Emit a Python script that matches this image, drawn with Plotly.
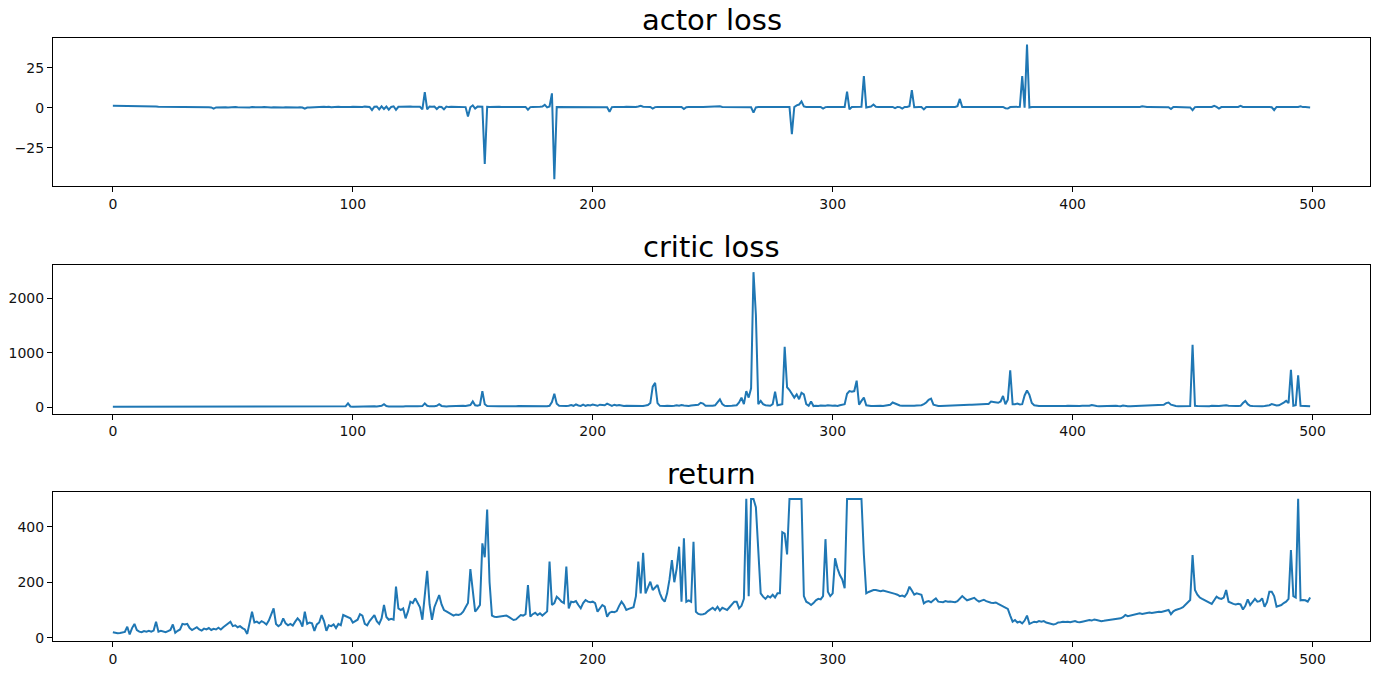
import plotly.graph_objects as go

# ---------------- data ----------------
episodes = list(range(500))

actor_loss = [
    1.2, 1.2, 1.1, 1.1, 1.2, 1.1, 1.0, 1.1, 1.0, 1.0, 1.1, 1.0, 1.2, 0.9, 1.0, 0.9, 0.8, 0.9, 0.8, 0.7,
    0.7, 0.6, 0.7, 0.6, 0.5, 0.6, 0.5, 0.6, 0.4, 0.5, 0.4, 0.5, 0.3, 0.5, 0.4, 0.3, 0.4, 0.5, 0.3, 0.4,
    0.3, 0.2, -0.5, 0.2, 0.3, 0.4, 0.2, 0.3, 0.2, 0.4, 0.3, 0.5, 0.3, 0.2, 0.3, 0.4, 0.3, 0.2, 0.4, 0.3,
    0.3, 0.2, 0.3, 0.4, 0.2, 0.3, 0.2, 0.3, 0.2, 0.3, 0.1, 0.2, 0.3, 0.2, 0.3, 0.2, 0.1, 0.2, 0.3, 0.1,
    -0.6, 0.1, 0.2, 0.3, 0.4, 0.3, 0.5, 0.3, 0.6, 0.4, 0.6, 0.3, 0.5, 0.4, 0.6, 0.5, 0.4, 0.6, 0.4, 0.5,
    0.6, 0.5, 0.4, 0.6, 0.5, 0.7, 0.6, 0.5, -1.5, 0.6, 0.8, -1.0, 0.9, -0.8, 0.7, -1.2, 0.5, 0.9, -1.3, 0.6,
    0.7, 0.8, 0.6, 0.7, 0.8, 0.6, 0.7, 0.8, 0.6, -1.0, 9.8, -1.0, 0.8, 0.6, 0.7, -0.8, 0.6, 0.5, -1.0, 0.7,
    0.4, 0.6, 0.5, 0.6, 0.4, 0.6, 0.5, 0.4, -5.5, 0.3, 1.5, -0.5, 0.7, 0.5, 0.6, -35.0, 0.6, 0.5, 0.6, 0.5,
    0.5, 0.6, 0.5, 0.5, 0.6, 0.5, 0.5, 0.4, 0.5, 0.5, 0.4, 0.3, 0.5, -1.2, 0.4, 0.5, 0.4, 0.5, 0.6, 0.8,
    1.8, 0.2, 0.8, 9.0, -44.5, 0.5, 0.5, 0.4, 0.5, 0.5, 0.6, 0.5, 0.4, 0.5, 0.5, 0.5, 0.4, 0.5, 0.5, 0.4,
    0.5, 0.4, 0.5, 0.5, 0.4, 0.5, 0.3, -2.5, 0.4, 0.5, 0.4, 0.5, 0.5, 0.4, 0.6, 0.5, 0.5, 0.4, 0.5, 0.8,
    1.2, 0.6, 0.5, 0.4, 0.5, -0.5, 0.4, 0.5, 0.5, 0.4, 0.5, 0.5, 0.4, 0.5, 0.5, 0.4, 0.5, 0.5, -0.8, 0.3,
    0.4, 0.5, 0.5, 0.4, 0.5, 0.5, 0.4, 0.5, 0.5, 0.5, 0.4, 0.5, 0.6, 0.9, 0.5, 0.5, 0.4, 0.5, 0.5, 0.4,
    0.5, 0.5, 0.4, 0.5, 0.5, 0.4, 0.3, -3.0, 0.2, 0.5, 0.4, 0.5, 0.5, 0.4, 0.5, 0.5, 0.4, 0.5, 0.4, 0.5,
    0.5, 0.4, 0.5, -16.5, 0.5, 1.5, 2.0, 4.0, 0.8, 0.5, 0.5, 0.4, 0.5, 0.5, 0.4, 0.5, -0.5, 0.4, 0.5, 0.5,
    0.5, 0.4, 0.5, 0.5, 0.6, 0.5, 10.0, -1.0, 0.4, 0.5, 0.6, 0.5, 0.6, 19.7, 0.2, 0.5, 0.8, 2.0, 0.6, 0.5,
    0.4, 0.5, 0.5, 0.4, 0.5, 0.5, -0.3, 0.5, 0.4, -0.5, 0.5, 0.5, 1.0, 11.0, 0.3, 0.5, 0.4, 0.4, -1.0, 0.5,
    0.5, 0.4, 0.5, 0.5, 0.4, 0.5, 0.5, 0.4, 0.5, 0.5, 0.4, 0.5, 1.0, 5.5, 0.5, 0.4, 0.5, 0.5, 0.4, 0.5,
    0.5, 0.4, 0.5, 0.5, 0.4, 0.5, 0.5, 0.4, 0.5, 0.5, 0.4, 0.5, -0.3, -0.5, 0.4, 0.5, 0.4, 0.5, 0.6, 19.7,
    0.0, 39.4, 0.2, 0.5, 0.4, 0.5, 0.5, 0.4, 0.5, 0.5, 0.4, 0.5, 0.5, 0.4, 0.5, 0.5, 0.4, 0.5, 0.5, 0.4,
    0.5, 0.4, 0.5, 0.5, 0.4, 0.5, 0.5, 0.4, 0.5, 0.5, 0.4, 0.5, 0.5, 0.4, 0.5, 0.5, 0.4, 0.5, 0.5, 0.4,
    0.5, 0.4, 0.5, 0.5, 0.4, 0.5, 0.5, 0.4, 0.5, 0.9, 0.5, 0.4, 0.5, 0.5, 0.4, 0.5, 0.5, 0.4, 0.5, 0.3,
    0.3, -0.8, 0.5, 0.5, 0.4, 0.5, 0.5, 0.4, 0.3, 0.2, -1.5, 0.4, 0.5, 0.4, 0.5, 0.5, 0.4, 0.4, 0.5, 1.2,
    0.5, -0.5, 0.4, 0.5, 0.4, 0.5, 0.5, 0.4, 0.5, 0.5, 1.2, 0.5, 0.4, 0.5, 0.5, 0.4, 0.5, 0.5, 0.4, 0.5,
    0.5, 0.4, 0.5, 0.3, -1.5, 0.5, 0.4, 0.5, 0.5, 0.4, 0.5, 0.5, 0.4, 0.5, 0.5, 0.9, 0.4, 0.5, 0.3, 0.2,
]

critic_loss = [
    12, 12, 11, 12, 13, 12, 11, 12, 12, 13, 12, 11, 12, 12, 11, 12, 13, 12, 12, 11,
    12, 12, 13, 12, 11, 12, 12, 13, 12, 12, 11, 12, 12, 13, 12, 11, 12, 12, 13, 12,
    12, 11, 12, 13, 12, 12, 11, 12, 13, 12, 12, 11, 12, 12, 13, 12, 11, 12, 12, 13,
    12, 12, 11, 12, 13, 12, 12, 11, 12, 12, 13, 12, 11, 12, 12, 13, 12, 12, 11, 12,
    13, 12, 12, 11, 12, 12, 13, 12, 12, 11, 12, 13, 12, 14, 12, 13, 15, 20, 75, 18,
    14, 16, 15, 18, 16, 15, 17, 16, 18, 20, 17, 22, 30, 60, 25, 18, 16, 20, 18, 17,
    18, 16, 20, 17, 19, 18, 22, 20, 18, 25, 75, 30, 20, 18, 22, 30, 60, 28, 20, 18,
    22, 25, 20, 24, 28, 25, 30, 28, 35, 45, 110, 40, 30, 45, 300, 60, 25, 22, 20, 24,
    22, 20, 24, 22, 20, 23, 25, 22, 24, 26, 25, 28, 30, 32, 28, 25, 24, 26, 22, 20,
    24, 22, 30, 100, 250, 70, 30, 25, 22, 28, 30, 45, 30, 55, 35, 28, 50, 30, 45, 35,
    55, 40, 30, 50, 45, 40, 70, 45, 30, 50, 35, 45, 30, 28, 32, 30, 35, 30, 25, 28,
    30, 28, 35, 45, 80, 380, 450, 80, 30, 25, 28, 30, 25, 28, 30, 40, 32, 45, 35, 30,
    28, 35, 40, 32, 50, 85, 70, 30, 28, 25, 30, 40, 90, 150, 60, 30, 28, 25, 30, 35,
    40, 90, 180, 60, 300, 180, 350, 2480, 1700, 60, 120, 60, 40, 35, 30, 60, 290, 40, 45, 60,
    1110, 370, 320, 250, 180, 240, 150, 270, 240, 60, 30, 110, 25, 30, 25, 35, 28, 30, 40, 32,
    30, 35, 28, 40, 45, 60, 250, 300, 290, 300, 490, 50, 120, 180, 40, 30, 28, 25, 30, 35,
    30, 28, 40, 45, 50, 90, 70, 40, 35, 30, 28, 30, 35, 32, 30, 35, 38, 40, 60, 90,
    140, 160, 50, 30, 25, 28, 30, 35, 40, 45, 48, 50, 52, 50, 48, 52, 55, 50, 48, 52,
    55, 58, 55, 60, 65, 62, 108, 100, 95, 85, 110, 210, 60, 140, 680, 60, 60, 70, 55, 60,
    220, 310, 230, 80, 40, 30, 28, 25, 30, 28, 25, 30, 28, 25, 22, 25, 28, 25, 30, 28,
    25, 22, 25, 28, 30, 28, 25, 30, 45, 28, 25, 22, 25, 28, 25, 22, 25, 28, 30, 25,
    22, 35, 25, 22, 20, 22, 25, 22, 20, 22, 25, 28, 30, 32, 30, 35, 40, 45, 50, 80,
    90, 50, 30, 25, 22, 20, 22, 25, 22, 25, 1150, 30, 25, 22, 25, 28, 25, 22, 30, 25,
    28, 25, 30, 35, 40, 30, 25, 22, 25, 28, 30, 80, 120, 60, 30, 25, 22, 25, 20, 22,
    25, 28, 40, 60, 45, 35, 40, 60, 90, 120, 80, 690, 30, 40, 589, 30, 25, 22, 20, 20,
]

episode_return = [
    20, 18, 16, 17, 19, 21, 40, 12, 35, 50,
    28, 22, 20, 24, 22, 25, 22, 26, 58, 22,
    25, 22, 20, 24, 28, 48, 18, 25, 30, 50,
    48, 50, 35, 28, 32, 38, 30, 26, 33, 30,
    35, 28, 32, 30, 36, 30, 38, 45, 50, 58,
    42, 45, 38, 42, 35, 30, 14, 50, 94, 55,
    58, 52, 60, 55, 48, 62, 85, 106, 50, 42,
    48, 70, 52, 45, 50, 44, 58, 70, 60, 40,
    94, 50, 55, 52, 25, 48, 55, 82, 60, 25,
    45, 42, 48, 35, 50, 45, 82, 78, 75, 70,
    55, 60, 65, 85, 80, 50, 45, 60, 70, 82,
    60, 50, 70, 118, 75, 65, 68, 65, 184, 106,
    100, 106, 70, 95, 130, 125, 142, 125, 110, 65,
    150, 241, 120, 65, 110, 130, 154, 120, 100, 95,
    90, 82, 80, 84, 82, 85, 94, 110, 125, 247,
    180, 94, 105, 118, 340, 290, 462, 200, 80, 76,
    75, 76, 76, 78, 80, 75, 70, 64, 66, 75,
    82, 80, 85, 190, 76, 85, 90, 82, 88, 80,
    86, 95, 274, 118, 125, 148, 140, 130, 125, 256,
    106, 130, 128, 132, 118, 106, 125, 136, 130, 128,
    130, 125, 94, 105, 118, 112, 76, 90, 94, 92,
    96, 115, 130, 118, 100, 104, 106, 110, 150, 274,
    160, 306, 160, 184, 202, 172, 180, 190, 160, 140,
    130, 160, 210, 280, 200, 250, 328, 130, 358, 130,
    135, 130, 346, 94, 86, 84, 85, 88, 96, 102,
    108, 100, 112, 98, 108, 104, 100, 110, 120, 130,
    130, 106, 115, 140, 500, 150, 500, 500, 470, 300,
    160, 148, 140, 150, 145, 155, 145, 160, 160, 380,
    375, 300, 500, 500, 500, 500, 500, 500, 150, 130,
    125, 118, 125, 135, 140, 138, 150, 355, 166, 150,
    160, 286, 250, 226, 210, 178, 500, 500, 500, 500,
    500, 500, 500, 300, 160, 165, 170, 172, 172, 170,
    168, 170, 168, 165, 162, 160, 158, 155, 150, 152,
    148, 160, 184, 170, 155, 160, 158, 155, 124, 130,
    132, 128, 135, 142, 130, 130, 128, 132, 130, 131,
    130, 128, 132, 140, 150, 142, 135, 138, 142, 144,
    136, 130, 134, 137, 132, 128, 126, 125, 127, 122,
    118, 112, 108, 104, 80, 58, 64, 55, 58, 52,
    62, 80, 50, 55, 58, 56, 60, 58, 60, 55,
    52, 50, 48, 50, 55, 56, 58, 57, 58, 56,
    58, 60, 57, 56, 58, 60, 62, 64, 62, 66,
    64, 62, 60, 61, 62, 64, 66, 65, 67, 69,
    70, 74, 82, 78, 80, 82, 84, 86, 88, 86,
    88, 90, 91, 89, 91, 92, 94, 93, 95, 98,
    100, 85, 95, 100, 102, 106, 110, 118, 125, 136,
    298, 172, 155, 145, 140, 135, 130, 128, 122, 135,
    148, 142, 140, 145, 172, 130, 125, 122, 120, 122,
    120, 102, 115, 138, 118, 128, 140, 130, 132, 142,
    112, 128, 166, 166, 150, 112, 115, 118, 125, 130,
    140, 316, 150, 145, 500, 135, 136, 135, 130, 145,
]

titles = ["actor loss", "critic loss", "return"]
x_ticks = [0, 100, 200, 300, 400, 500]
y_ticks = [[-25, 0, 25], [0, 1000, 2000], [0, 200, 400]]

# ---------------- layout ----------------
W, H = 1400, 685
LEFT, RIGHT = 53, 1370
panels_px = [(38, 187), (267, 416), (495, 645)]  # (top, bottom) in pixels
LINE_COLOR = "#1f77b4"
FONT = "DejaVu Sans"

series = [actor_loss, critic_loss, episode_return]

fig = go.Figure()
n = len(episodes)
x_pad = 0.05 * (n - 1)
x_range = [-x_pad, (n - 1) + x_pad]

annotations = []
for i, (ys, title, yt, (top, bot)) in enumerate(zip(series, titles, y_ticks, panels_px)):
    idx = "" if i == 0 else str(i + 1)
    fig.add_trace(go.Scatter(
        x=episodes, y=ys, mode="lines",
        line=dict(color=LINE_COLOR, width=2),
        xaxis="x" + idx, yaxis="y" + idx, showlegend=False,
        hoverinfo="x+y",
    ))
    lo, hi = min(ys), max(ys)
    pad = 0.05 * (hi - lo)
    axis_common = dict(
        showline=True, mirror=True, linecolor="black", linewidth=1,
        ticks="outside", ticklen=5, tickwidth=1, tickcolor="black",
        showgrid=False, zeroline=False,
        tickfont=dict(family=FONT, size=14, color="#111"),
    )
    fig.update_layout(**{
        "xaxis" + idx: dict(
            domain=[LEFT / W, RIGHT / W], anchor="y" + idx,
            range=x_range, tickmode="array", tickvals=x_ticks,
            **axis_common,
        ),
        "yaxis" + idx: dict(
            domain=[(H - bot) / H, (H - top) / H], anchor="x" + idx,
            range=[lo - pad, hi + pad], tickmode="array", tickvals=yt,
            ticktext=[str(v).replace("-", "\u2212") for v in yt],
            **axis_common,
        ),
    })
    annotations.append(dict(
        text=title, xref="x" + idx + " domain", yref="y" + idx + " domain",
        x=0.5, y=1, xanchor="center", yanchor="bottom", yshift=-1,
        showarrow=False, font=dict(family=FONT, size=29, color="black"),
    ))

fig.update_layout(
    width=W, height=H,
    margin=dict(l=0, r=0, t=0, b=0),
    paper_bgcolor="white", plot_bgcolor="white",
    annotations=annotations,
    showlegend=False,
)

fig.write_html("out.html")
